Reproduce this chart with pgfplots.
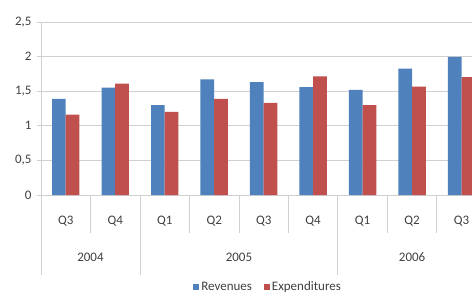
\documentclass[border=0pt]{standalone}
\usepackage{fontspec}
\setmainfont{Carlito}
\usepackage{pgfplots}
\pgfplotsset{compat=1.18}
\definecolor{rev}{HTML}{4F81BD}
\definecolor{exp}{HTML}{C0504D}
\definecolor{txt}{HTML}{404040}
\definecolor{grd}{HTML}{D0D0D0}
\begin{document}
\begin{tikzpicture}[x=1pt,y=1pt]
\useasboundingbox (0,0) rectangle (472,300);
\begin{axis}[
  at={(41pt,105pt)}, anchor=south west,
  scale only axis, width=431pt, height=173pt,
  ybar=0pt, bar width=13.7pt,
  xmin=-0.5, xmax=8.21, ymin=0, ymax=2.5,
  ytick={0,0.5,1,1.5,2,2.5},
  /pgf/number format/use comma,
  /pgf/number format/assume math mode=true,
  ymajorgrids, grid style={grd, line width=0.8pt},
  axis x line*=bottom, axis y line*=left,
  axis line style={grd, line width=0.8pt},
  xtick={0,...,8},
  xticklabels={Q3,Q4,Q1,Q2,Q3,Q4,Q1,Q2,Q3},
  xtick style={draw=none},
  xtick align=outside, ytick align=outside,
  major tick length=4pt,
  ytick style={grd, line width=0.8pt},
  xticklabel style={yshift=-14pt},
  tick label style={font=\fontsize{13}{15}\selectfont, text=txt},
  yticklabel style={xshift=-2pt},
  clip=false,
  enlarge x limits=false,
  legend style={at={(0.527,-0.532)}, anchor=center, draw=none,
    legend columns=2, font=\fontsize{13}{15}\selectfont, text=txt,
    /tikz/every even column/.append style={column sep=10pt}},
  legend image code/.code={\fill[#1] (0pt,-3pt) rectangle (6pt,3pt);},
]
\addplot[fill=rev, draw=none] coordinates {(0,1.39) (1,1.55) (2,1.30) (3,1.67) (4,1.63) (5,1.56) (6,1.52) (7,1.825) (8,1.995)};
\addplot[fill=exp, draw=none] coordinates {(0,1.16) (1,1.61) (2,1.20) (3,1.39) (4,1.33) (5,1.715) (6,1.30) (7,1.565) (8,1.705)};
\legend{Revenues, Expenditures}
\pgfplotsinvokeforeach{0.5,2.5,3.5,4.5,6.5,7.5}{
  \draw[grd, line width=0.8pt] (axis cs:#1,0) -- ++(0pt,-38pt);
}
\draw[grd, line width=0.8pt] (axis cs:-0.5,0) -- ++(0pt,-80pt);
\draw[grd, line width=0.8pt] (axis cs:1.5,0) -- ++(0pt,-80pt);
\draw[grd, line width=0.8pt] (axis cs:5.5,0) -- ++(0pt,-80pt);
\node[font=\fontsize{13}{15}\selectfont, text=txt] at ([yshift=-62pt]axis cs:0.5,0) {2004};
\node[font=\fontsize{13}{15}\selectfont, text=txt] at ([yshift=-62pt]axis cs:3.5,0) {2005};
\node[font=\fontsize{13}{15}\selectfont, text=txt] at ([yshift=-62pt]axis cs:7,0) {2006};
\end{axis}
\end{tikzpicture}
\end{document}
